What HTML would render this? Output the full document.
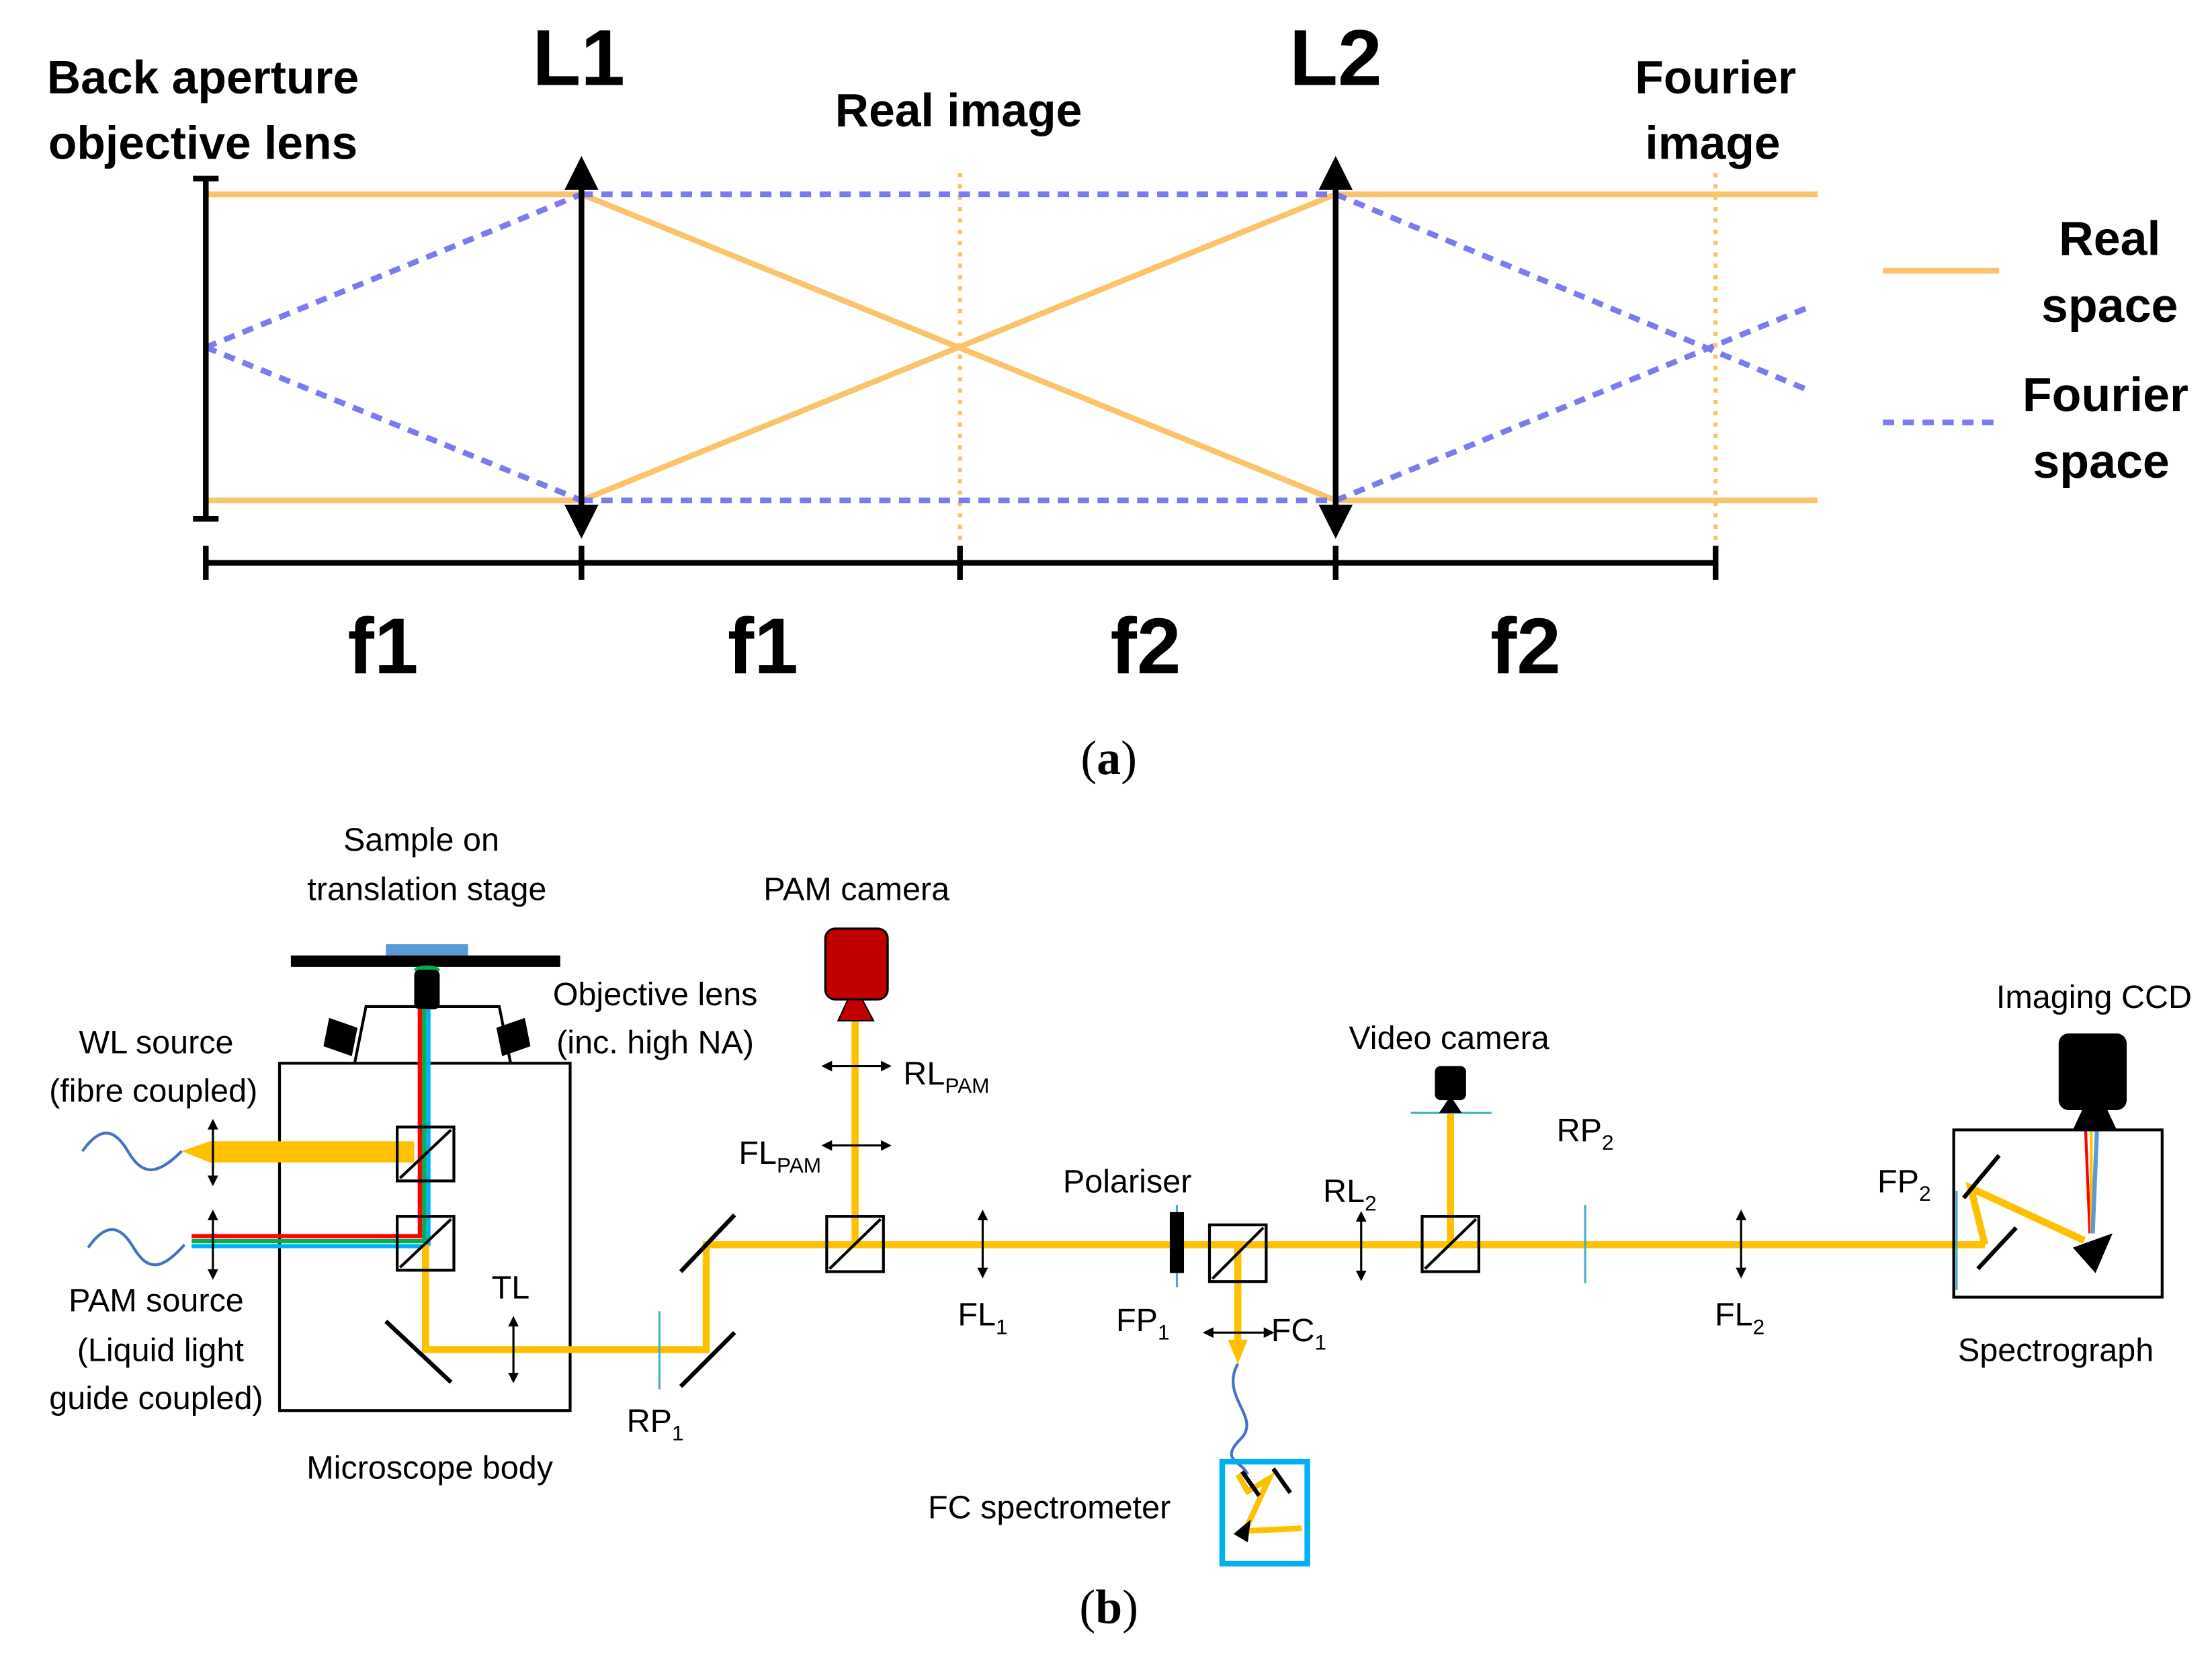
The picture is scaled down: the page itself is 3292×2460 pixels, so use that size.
<!DOCTYPE html>
<html><head><meta charset="utf-8"><style>
html,body{margin:0;padding:0;background:#fff;}
svg{display:block;}
.a{font-family:"Liberation Sans",Arial,sans-serif;font-weight:bold;fill:#000;text-anchor:middle;}
.b{font-family:"Liberation Sans Narrow","Liberation Sans",sans-serif;font-size:23px;fill:#000;text-anchor:middle;}
.s{font-size:15px;}
</style></head><body>
<svg width="3292" height="2460" viewBox="0 0 1560 1166" xmlns="http://www.w3.org/2000/svg">
<defs>
<marker id="bh" viewBox="0 0 10 10" refX="5" refY="5" markerWidth="5" markerHeight="5" orient="auto-start-reverse"><path d="M0,0 L10,5 L0,10 z" fill="#000"/></marker>
</defs>
<!-- (a) -->
<g stroke="#F9C46A" stroke-width="4" fill="none">
<line x1="145" y1="137" x2="410" y2="137"/><line x1="145" y1="353" x2="410" y2="353"/>
<line x1="942" y1="137" x2="1282" y2="137"/><line x1="942" y1="353" x2="1282" y2="353"/>
<line x1="410" y1="137" x2="942" y2="353"/><line x1="410" y1="353" x2="942" y2="137"/>
<line x1="1328" y1="191" x2="1410" y2="191"/>
</g>
<g stroke="#F9C46A" stroke-width="3" stroke-dasharray="3,5"><line x1="677" y1="122" x2="677" y2="395"/><line x1="1210" y1="122" x2="1210" y2="395"/></g>
<g stroke="#7B7BF0" stroke-width="4" stroke-dasharray="8,6" fill="none">
<line x1="145" y1="245" x2="410" y2="137"/><line x1="145" y1="245" x2="410" y2="353"/>
<line x1="410" y1="137" x2="942" y2="137"/><line x1="410" y1="353" x2="942" y2="353"/>
<line x1="942" y1="137" x2="1275" y2="275"/><line x1="942" y1="353" x2="1275" y2="217"/>
<line x1="1328" y1="298" x2="1410" y2="298"/>
</g>
<g stroke="#000" stroke-width="4">
<line x1="145" y1="126" x2="145" y2="366"/><line x1="136" y1="126" x2="154" y2="126"/><line x1="136" y1="366" x2="154" y2="366"/>
<line x1="410" y1="120" x2="410" y2="370"/><line x1="942" y1="120" x2="942" y2="370"/>
<line x1="145" y1="397" x2="1210" y2="397"/>
<line x1="145" y1="385" x2="145" y2="409"/><line x1="410" y1="385" x2="410" y2="409"/><line x1="677" y1="385" x2="677" y2="409"/><line x1="942" y1="385" x2="942" y2="409"/><line x1="1210" y1="385" x2="1210" y2="409"/>
</g>
<g fill="#000"><path d="M398,134 L410,110 L422,134z"/><path d="M398,356 L410,380 L422,356z"/><path d="M930,134 L942,110 L954,134z"/><path d="M930,356 L942,380 L954,356z"/></g>
<text class="a" x="143" y="66" font-size="33">Back aperture</text>
<text class="a" x="143" y="112" font-size="33">objective lens</text>
<text class="a" x="408" y="60" font-size="56">L1</text>
<text class="a" x="942" y="60" font-size="56">L2</text>
<text class="a" x="676" y="89" font-size="33">Real image</text>
<text class="a" x="1210" y="66" font-size="33">Fourier</text>
<text class="a" x="1208" y="112" font-size="33">image</text>
<text class="a" x="1488" y="180" font-size="34">Real</text>
<text class="a" x="1488" y="227" font-size="34">space</text>
<text class="a" x="1485" y="290" font-size="34">Fourier</text>
<text class="a" x="1482" y="337" font-size="34">space</text>
<text class="a" x="270" y="475" font-size="56">f1</text>
<text class="a" x="538" y="475" font-size="56">f1</text>
<text class="a" x="808" y="475" font-size="56">f2</text>
<text class="a" x="1076" y="475" font-size="56">f2</text>
<text x="782" y="546" font-family="Liberation Serif,serif" font-size="34" text-anchor="middle">(<tspan font-weight="bold">a</tspan>)</text>

<!-- (b) -->
<g fill="none" stroke="#000" stroke-width="2">
<rect x="197" y="750" width="205" height="245"/>
<path d="M250,750 L258,710 L352,710 L360,750"/>
</g>
<rect x="205" y="674" width="190" height="8" fill="#000"/>
<rect x="272" y="666" width="58" height="8" fill="#5B9BD5"/>
<ellipse cx="301" cy="684" rx="9" ry="3" fill="#00B050"/>
<rect x="292" y="684" width="18" height="28" rx="4" fill="#000"/>
<path d="M232,718 L252,725 L248,745 L228,738z" fill="#000"/>
<path d="M370,718 L350,725 L354,745 L374,738z" fill="#000"/>
<path d="M58,812 C70,795 80,795 90,812 S110,830 128,812" stroke="#4472C4" stroke-width="2" fill="none"/>
<path d="M128,812 L148,805 L292,805 L292,820 L148,820z" fill="#FFC000"/>
<path d="M62,880 C74,863 84,863 94,880 S114,896 130,878" stroke="#4472C4" stroke-width="2" fill="none"/>
<line x1="135" y1="872" x2="300" y2="872" stroke="#FF0000" stroke-width="3"/>
<line x1="135" y1="875.5" x2="300" y2="875.5" stroke="#00B050" stroke-width="3"/>
<line x1="135" y1="879" x2="300" y2="879" stroke="#00B0F0" stroke-width="3"/>
<line x1="296" y1="712" x2="296" y2="872" stroke="#FF0000" stroke-width="3"/>
<line x1="299" y1="712" x2="299" y2="875" stroke="#00B050" stroke-width="3"/>
<line x1="302" y1="712" x2="302" y2="879" stroke="#00B0F0" stroke-width="3"/>
<g stroke="#FFC000" stroke-width="5" fill="none">
<path d="M300,878 L300,952 L498,952 L498,878 L1400,878"/>
<line x1="603" y1="720" x2="603" y2="878"/>
<line x1="1023" y1="785" x2="1023" y2="878"/>
<path d="M873,878 L873,945"/>
<path d="M873,1040 L880,1052 L895,1043 L878,1080 L918,1078" stroke-width="4"/>
</g>
<path d="M1400,878 L1390,838 L1470,875" stroke="#FFC000" stroke-width="5" fill="none"/>
<path d="M866,945 L873,962 L880,945z" fill="#FFC000"/>
<path d="M873,962 C860,985 890,1000 875,1015 S875,1030 880,1040" stroke="#4472C4" stroke-width="2" fill="none"/>
<line x1="1471" y1="797" x2="1474" y2="870" stroke="#FF0000" stroke-width="2"/>
<line x1="1475" y1="797" x2="1475" y2="870" stroke="#FFC000" stroke-width="2"/>
<line x1="1479" y1="797" x2="1476" y2="870" stroke="#5B9BD5" stroke-width="3"/>
<path d="M1462,880 L1490,870 L1478,898z" fill="#000"/>
<g fill="none" stroke="#000" stroke-width="2">
<rect x="280" y="795" width="40" height="38"/><line x1="282" y1="831" x2="318" y2="797"/>
<rect x="280" y="858" width="40" height="38"/><line x1="282" y1="894" x2="318" y2="860"/>
<rect x="583" y="858" width="40" height="39"/><line x1="585" y1="895" x2="621" y2="860"/>
<rect x="853" y="864" width="40" height="40"/><line x1="855" y1="902" x2="891" y2="866"/>
<rect x="1003" y="858" width="40" height="39"/><line x1="1005" y1="895" x2="1041" y2="860"/>
<rect x="1378" y="797" width="147" height="118"/>
</g>
<g stroke="#000" stroke-width="3">
<line x1="272" y1="932" x2="318" y2="975"/>
<line x1="480" y1="897" x2="518" y2="857"/>
<line x1="480" y1="978" x2="518" y2="940"/>
<line x1="1385" y1="845" x2="1410" y2="815"/>
<line x1="1395" y1="895" x2="1422" y2="866"/>
<line x1="876" y1="1038" x2="888" y2="1055"/><line x1="898" y1="1036" x2="910" y2="1053"/>
</g>
<path d="M870,1082 L882,1072 L880,1088z" fill="#000"/>
<g stroke="#000" stroke-width="1.5" marker-start="url(#bh)" marker-end="url(#bh)">
<line x1="150" y1="793" x2="150" y2="833"/>
<line x1="150" y1="857" x2="150" y2="899"/>
<line x1="362" y1="932" x2="362" y2="972"/>
<line x1="583" y1="752" x2="625" y2="752"/>
<line x1="583" y1="808" x2="625" y2="808"/>
<line x1="693" y1="857" x2="693" y2="898"/>
<line x1="852" y1="940" x2="895" y2="940"/>
<line x1="960" y1="858" x2="960" y2="900"/>
<line x1="1228" y1="857" x2="1228" y2="898"/>
</g>
<g stroke="#4BACC6" stroke-width="1.5">
<line x1="465" y1="925" x2="465" y2="980"/>
<line x1="830" y1="850" x2="830" y2="908"/>
<line x1="1118" y1="850" x2="1118" y2="905"/>
<line x1="1380" y1="840" x2="1380" y2="910"/>
<line x1="995" y1="785" x2="1052" y2="785"/>
</g>
<rect x="825" y="855" width="10" height="43" fill="#000"/>
<rect x="582" y="655" width="44" height="50" rx="7" fill="#C00000" stroke="#000" stroke-width="1.5"/>
<path d="M591,720 L598,705 L608,705 L616,720z" fill="#C00000" stroke="#000" stroke-width="1"/>
<rect x="1012" y="752" width="22" height="24" rx="4" fill="#000"/>
<path d="M1015,785 L1023,773 L1031,785z" fill="#000"/>
<rect x="1452" y="729" width="48" height="54" rx="7" fill="#000"/>
<path d="M1462,797 L1470,780 L1485,780 L1493,797z" fill="#000"/>
<rect x="862" y="1031" width="60" height="72" fill="none" stroke="#00B0F0" stroke-width="4"/>
<g class="b">
<text x="297" y="600">Sample on</text>
<text x="301" y="635">translation stage</text>
<text x="462" y="709">Objective lens</text>
<text x="462" y="743">(inc. high NA)</text>
<text x="110" y="743">WL source</text>
<text x="108" y="777">(fibre coupled)</text>
<text x="110" y="925">PAM source</text>
<text x="113" y="960">(Liquid light</text>
<text x="110" y="994">guide coupled)</text>
<text x="303" y="1043">Microscope body</text>
<text x="360" y="916">TL</text>
<text x="604" y="635">PAM camera</text>
<text x="550" y="821">FL<tspan class="s" dy="6">PAM</tspan></text>
<text x="462" y="1010">RP<tspan class="s" dy="6">1</tspan></text>
<text x="693" y="935">FL<tspan class="s" dy="6">1</tspan></text>
<text x="795" y="841">Polariser</text>
<text x="806" y="939">FP<tspan class="s" dy="6">1</tspan></text>
<text x="916" y="946">FC<tspan class="s" dy="6">1</tspan></text>
<text x="740" y="1071">FC spectrometer</text>
<text x="952" y="848">RL<tspan class="s" dy="6">2</tspan></text>
<text x="1022" y="740">Video camera</text>
<text x="1118" y="805">RP<tspan class="s" dy="6">2</tspan></text>
<text x="1227" y="935">FL<tspan class="s" dy="6">2</tspan></text>
<text x="1343" y="841">FP<tspan class="s" dy="6">2</tspan></text>
<text x="1477" y="711">Imaging CCD</text>
<text x="1450" y="960">Spectrograph</text>
</g>
<text x="637" y="765" font-family="Liberation Sans Narrow,Liberation Sans,sans-serif" font-size="23">RL<tspan font-size="15" dy="6">PAM</tspan></text>
<text x="782" y="1145" font-family="Liberation Serif,serif" font-size="34" text-anchor="middle">(<tspan font-weight="bold">b</tspan>)</text>
</svg>
</body></html>
